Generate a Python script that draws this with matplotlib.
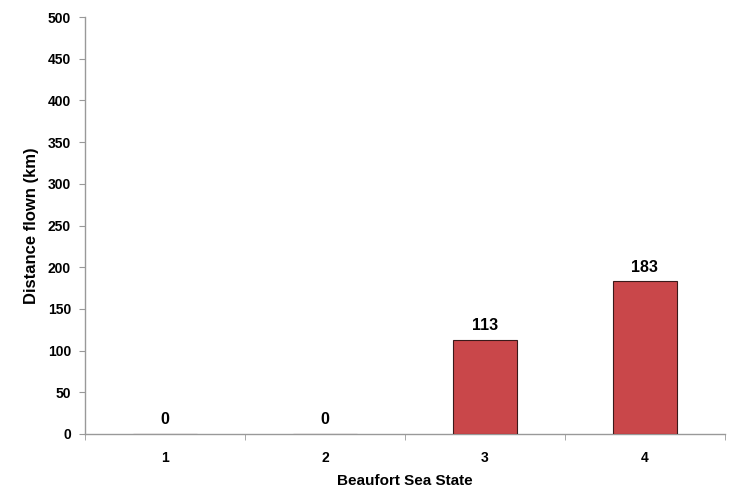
import matplotlib
matplotlib.use("Agg")
import matplotlib.pyplot as plt
import numpy as np

# data
sea_states = ["1", "2", "3", "4"]
distance_km = [0, 0, 113, 183]

plt.rcParams['font.family'] = ['Liberation Sans', 'DejaVu Sans']

fig = plt.figure(figsize=(7.3, 4.92), dpi=100)
ax = fig.add_axes([0.1164, 0.1179, 0.8766, 0.8475])

x = np.arange(len(sea_states))
bars = ax.bar(x, distance_km, width=0.4, color="#C9474A", edgecolor="#3a1a1a", linewidth=0.8, zorder=3)

# value labels above bars
for xi, v in zip(x, distance_km):
    ax.text(xi, v + 8, str(v), ha="center", va="bottom", fontsize=11.5, fontweight="bold")

ax.set_xlim(-0.5, len(sea_states) - 0.5)
ax.set_ylim(0, 500)
ax.set_yticks(np.arange(0, 501, 50))
ax.set_xticks(x)
ax.set_xticklabels(sea_states)
# tick marks at category boundaries like excel
ax.set_xticks(np.arange(-0.5, len(sea_states)), minor=True)
ax.tick_params(axis="x", which="major", length=0, pad=12)
ax.tick_params(axis="x", which="minor", length=4, color="#999999")
ax.tick_params(axis="y", length=4, color="#999999", pad=6)

for lab in ax.get_xticklabels() + ax.get_yticklabels():
    lab.set_fontweight("bold")
    lab.set_fontsize(10)

for side in ["top", "right"]:
    ax.spines[side].set_visible(False)
for side in ["left", "bottom"]:
    ax.spines[side].set_color("#999999")
    ax.spines[side].set_linewidth(1)

ax.set_xlabel("Beaufort Sea State", fontsize=11, fontweight="bold", labelpad=7)
ax.set_ylabel("Distance flown (km)", fontsize=12, fontweight="bold", labelpad=6)

fig.savefig("out.png", dpi=100)
